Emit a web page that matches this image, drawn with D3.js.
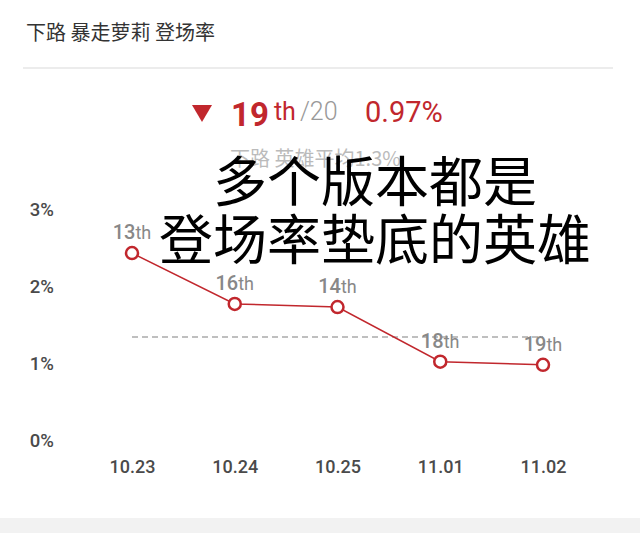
<!DOCTYPE html>
<html><head><meta charset="utf-8">
<script src="https://cdn.jsdelivr.net/npm/d3@7/dist/d3.min.js"></script>
<style>
html,body{margin:0;padding:0;background:#fff;}
svg{display:block;}
</style></head>
<body>
<script>
const versions = ["10.23","10.24","10.25","11.01","11.02"];
const pickRates = [2.44, 1.78, 1.74, 1.03, 0.99];
const ranks = [13, 16, 14, 18, 19];
const yTicks = [0, 1, 2, 3];
const avgRate = 1.35;
const totalHeroes = 20;
const currentRateLabel = "0.97%";
const title = "下路 暴走萝莉 登场率";
const subtitle = "下路 英雄平均1.3%";
const overlayLines = ["多个版本都是", "登场率垫底的英雄"];

const W = 640, H = 533;
const red = "#c1272d";
const svg = d3.select("body").append("svg").attr("width", W).attr("height", H);
const cjk = "'Noto Sans CJK SC','Noto Sans',sans-serif";
const num = "Roboto,'Noto Sans',sans-serif";

// title
svg.append("text").attr("x", 26).attr("y", 40).text(title)
  .attr("font-family", cjk).attr("font-size", 20).attr("fill", "#333");
svg.append("line").attr("x1", 23).attr("x2", 613).attr("y1", 68).attr("y2", 68)
  .attr("stroke", "#e6e6e6").attr("stroke-width", 1.5);
// bottom band
svg.append("rect").attr("x", 0).attr("y", 518).attr("width", W).attr("height", H - 518).attr("fill", "#f2f2f2");

// header summary
const last = pickRates.length - 1;
svg.append("path").attr("d", "M192,105 L212,105 L202,122 Z").attr("fill", red);
const hdr = svg.append("text").attr("x", 231).attr("y", 126).attr("font-family", num);
hdr.append("tspan").text(ranks[last]).attr("font-size", 33).attr("font-weight", 700).attr("fill", red);
hdr.append("tspan").text("th").attr("dx", 5).attr("dy", -6).attr("font-size", 25).attr("fill", red);
hdr.append("tspan").text(" /" + totalHeroes).attr("dx", -2).attr("font-size", 25).attr("fill", "#999").attr("font-weight", 300);
svg.append("text").attr("x", 365).attr("y", 122).text(currentRateLabel)
  .attr("font-family", num).attr("font-size", 29).attr("fill", red);
svg.append("text").attr("x", 230).attr("y", 166).text(subtitle)
  .attr("font-family", cjk).attr("font-size", 20).attr("fill", "#bbb");

// scales
const x = d3.scalePoint().domain(versions).range([132, 543]);
const y = d3.scaleLinear().domain([0, 3]).range([441, 210]);

// y axis labels
const yAxis = svg.append("g").attr("transform", "translate(54,0)")
  .call(d3.axisLeft(y).tickValues(yTicks).tickFormat(d => d + "%").tickSize(0).tickPadding(0));
yAxis.select(".domain").remove();
yAxis.selectAll("text").attr("font-family", num).attr("font-size", 18.5).attr("font-weight", 500).attr("fill", "#4a4a4a");

// x axis labels
const xAxis = svg.append("g").attr("transform", "translate(0,460)")
  .call(d3.axisBottom(x).tickSize(0).tickPadding(0));
xAxis.select(".domain").remove();
xAxis.selectAll("text").attr("font-family", num).attr("font-size", 18).attr("font-weight", 500).attr("fill", "#4a4a4a");

// avg dashed line
svg.append("line").attr("x1", x(versions[0])).attr("x2", x(versions[last]))
  .attr("y1", y(avgRate)).attr("y2", y(avgRate))
  .attr("stroke", "#aaa").attr("stroke-width", 1.5).attr("stroke-dasharray", "6,4");

// line
svg.append("path").datum(pickRates)
  .attr("d", d3.line().x((d, i) => x(versions[i])).y(d => y(d)))
  .attr("fill", "none").attr("stroke", red).attr("stroke-width", 1.5);

svg.selectAll("circle.pt").data(pickRates).join("circle").attr("class", "pt")
  .attr("cx", (d, i) => x(versions[i])).attr("cy", d => y(d)).attr("r", 6)
  .attr("fill", "#fff").attr("stroke", red).attr("stroke-width", 2.5);

// rank labels
const lbl = svg.selectAll("text.rk").data(pickRates).join("text").attr("class", "rk")
  .attr("x", (d, i) => x(versions[i])).attr("y", d => y(d) - 14)
  .attr("text-anchor", "middle").attr("font-family", num).attr("fill", "#888");
lbl.append("tspan").text((d, i) => ranks[i]).attr("font-size", 20).attr("font-weight", 500);
lbl.append("tspan").text("th").attr("font-size", 18);

// overlay annotation
overlayLines.forEach((t, i) => {
  svg.append("text").attr("x", 375).attr("y", 202 + i * 58).attr("text-anchor", "middle")
    .text(t).attr("font-family", cjk).attr("font-size", 54).attr("fill", "#000");
});
</script>
</body></html>
